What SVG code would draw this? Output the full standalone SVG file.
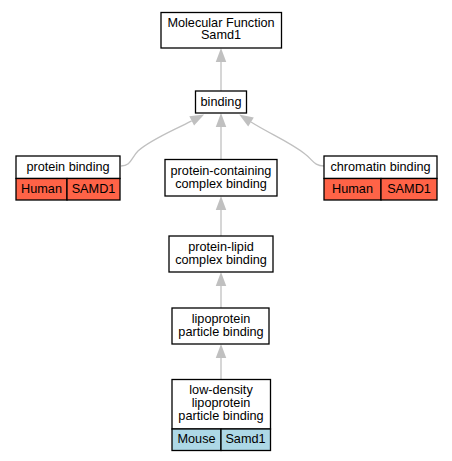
<svg xmlns="http://www.w3.org/2000/svg" width="452" height="461" viewBox="0 0 452 461">
<defs>
<marker id="ah" markerUnits="userSpaceOnUse" markerWidth="14" markerHeight="11" refX="0" refY="5.25" orient="auto" overflow="visible">
<path d="M0,0 L14,5.25 L0,10.5 z" fill="#c0c0c0"/>
</marker>
</defs>
<style>
text{font-family:"Liberation Sans",Arial,sans-serif;font-size:12.7px;fill:#000;text-anchor:middle}
.box{fill:#fff;stroke:#000;stroke-width:1.3}
.hum{fill:#ff6347;stroke:#000;stroke-width:1.3}
.mou{fill:#add8e6;stroke:#000;stroke-width:1.3}
.e{fill:none;stroke:#c0c0c0;stroke-width:1.3;marker-end:url(#ah)}
</style>
<rect width="452" height="461" fill="#fff"/>
<g id="edges">
<path class="e" d="M221,91 L221,62"/>
<path class="e" d="M221,159 L221,127"/>
<path class="e" d="M221,236 L221,210"/>
<path class="e" d="M221,308 L221,286"/>
<path class="e" d="M221,379 L221,358"/>
<path class="e" d="M121,166 C131,166 131,158 138,151 C150,140 170,132 191.7,120.8"/>
<path class="e" d="M324,166 C314,166 313,160 305,154 C290,142 270,134 251,122"/>
</g>
<g id="mf">
<rect class="box" x="161" y="12.5" width="120.5" height="35.5"/>
<text x="221" y="26.7">Molecular Function</text>
<text x="221" y="39.2">Samd1</text>
</g>
<g id="binding">
<rect class="box" x="195.5" y="91" width="51" height="22"/>
<text x="221" y="106">binding</text>
</g>
<g id="protein_binding">
<rect class="box" x="16" y="156" width="104" height="22.5"/>
<text x="68" y="171">protein binding</text>
<rect class="hum" x="16" y="178.5" width="51" height="21.5"/>
<rect class="hum" x="67" y="178.5" width="53" height="21.5"/>
<text x="41.5" y="193">Human</text>
<text x="93.5" y="193">SAMD1</text>
</g>
<g id="chromatin_binding">
<rect class="box" x="324" y="156" width="113" height="22.5"/>
<text x="380.5" y="171">chromatin binding</text>
<rect class="hum" x="324" y="178.5" width="57" height="21.5"/>
<rect class="hum" x="381" y="178.5" width="56" height="21.5"/>
<text x="352.5" y="193">Human</text>
<text x="409" y="193">SAMD1</text>
</g>
<g id="pcc">
<rect class="box" x="165" y="159.5" width="112" height="36.5"/>
<text x="221" y="175">protein-containing</text>
<text x="221" y="187.5">complex binding</text>
</g>
<g id="plc">
<rect class="box" x="169" y="236" width="104" height="36"/>
<text x="221" y="251">protein-lipid</text>
<text x="221" y="263.5">complex binding</text>
</g>
<g id="lpb">
<rect class="box" x="172" y="308" width="97" height="36"/>
<text x="221" y="323">lipoprotein</text>
<text x="221" y="335.5">particle binding</text>
</g>
<g id="ldl">
<rect class="box" x="172" y="379.5" width="98.5" height="49.5"/>
<text x="221" y="394">low-density</text>
<text x="221" y="406.5">lipoprotein</text>
<text x="221" y="419.5">particle binding</text>
<rect class="mou" x="172" y="429" width="49" height="21.5"/>
<rect class="mou" x="221" y="429" width="49.5" height="21.5"/>
<text x="196.5" y="443">Mouse</text>
<text x="245.5" y="443">Samd1</text>
</g>
</svg>
